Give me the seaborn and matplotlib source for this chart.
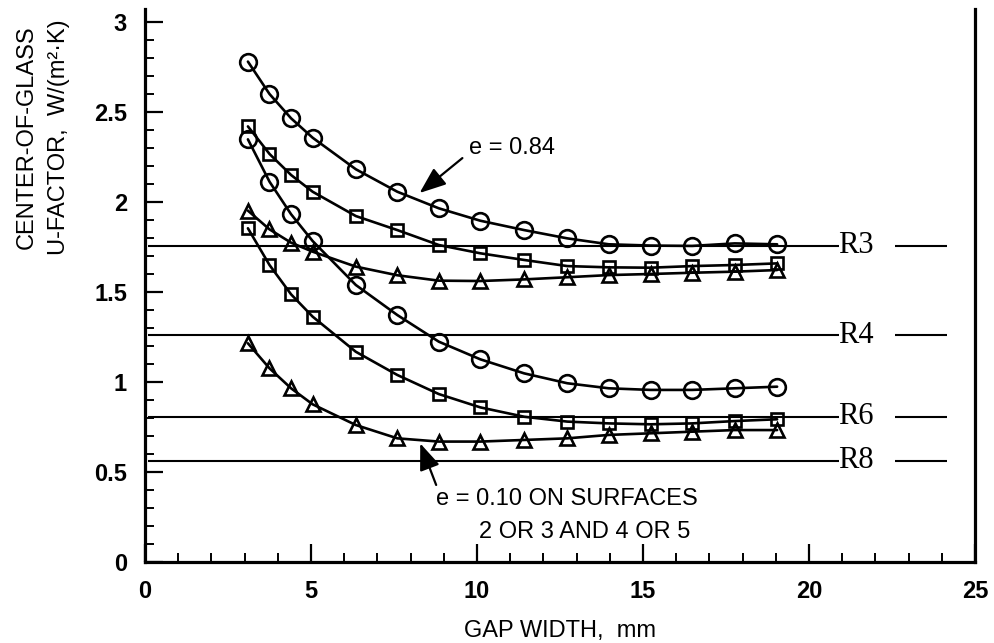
import matplotlib
matplotlib.use("Agg")
import matplotlib.pyplot as plt
import seaborn as sns
import pandas as pd
from matplotlib.ticker import MultipleLocator

# ---------------- data ----------------
gap_mm = [3.1, 3.75, 4.4, 5.05, 6.35, 7.6, 8.85, 10.1, 11.42, 12.72, 13.97, 15.23, 16.48, 17.76, 19.04]

upper_circle = [2.78, 2.60, 2.465, 2.357, 2.182, 2.057, 1.965, 1.896, 1.844, 1.798, 1.765, 1.758, 1.756, 1.77, 1.765]
upper_square = [2.42, 2.267, 2.15, 2.057, 1.922, 1.844, 1.761, 1.715, 1.678, 1.644, 1.637, 1.635, 1.644, 1.65, 1.659]
upper_triangle = [1.952, 1.848, 1.774, 1.724, 1.641, 1.593, 1.563, 1.561, 1.570, 1.582, 1.594, 1.60, 1.607, 1.613, 1.622]
lower_circle = [2.348, 2.113, 1.932, 1.783, 1.539, 1.372, 1.224, 1.126, 1.048, 0.993, 0.965, 0.956, 0.956, 0.965, 0.974]
lower_square = [1.854, 1.65, 1.487, 1.363, 1.168, 1.039, 0.933, 0.859, 0.807, 0.78, 0.77, 0.765, 0.77, 0.783, 0.793]
lower_triangle = [1.215, 1.076, 0.965, 0.876, 0.761, 0.687, 0.669, 0.669, 0.678, 0.687, 0.706, 0.715, 0.724, 0.733, 0.733]

r_labels = ["R3", "R4", "R6", "R8"]
r_values = [1.757, 1.261, 0.806, 0.563]

x_label = "GAP WIDTH,  mm"
y_label = "CENTER-OF-GLASS\nU-FACTOR,  W/(m\u00b2\u00b7K)"
note_high = "e = 0.84"
note_low_1 = "e = 0.10 ON SURFACES"
note_low_2 = "2 OR 3 AND 4 OR 5"

# ---------------- style ----------------
sns.set_style("white")
plt.rcParams["font.family"] = ["Liberation Sans", "DejaVu Sans"]
plt.rcParams["text.color"] = "black"
plt.rcParams["axes.labelcolor"] = "black"
plt.rcParams["xtick.color"] = "black"
plt.rcParams["ytick.color"] = "black"

fig = plt.figure(figsize=(9.95, 6.43), dpi=100)
ax = fig.add_axes([145 / 995, 81 / 643, 830 / 995, 553 / 643])

series = [
    (upper_circle, "o", 12),
    (upper_square, "s", 9),
    (upper_triangle, "^", 10),
    (lower_circle, "o", 12),
    (lower_square, "s", 9),
    (lower_triangle, "^", 10),
]
for vals, mk, ms in series:
    df = pd.DataFrame({"gap": gap_mm, "u": vals})
    sns.lineplot(data=df, x="gap", y="u", ax=ax, color="black", linewidth=1.9,
                 marker=mk, markersize=ms, markerfacecolor="none",
                 markeredgecolor="black", markeredgewidth=1.9, zorder=3)

# R-value reference lines
for lab, val in zip(r_labels, r_values):
    ax.hlines(val, 0.1, 20.9, color="black", linewidth=1.5, zorder=2)
    ax.hlines(val, 22.6, 24.15, color="black", linewidth=1.5, zorder=2)
    ax.text(20.88, val, lab, ha="left", va="center", fontsize=22,
            family=["Liberation Serif", "DejaVu Serif"], color="black")

# annotations
ax.text(9.77, 2.30, note_high, ha="left", va="center", fontsize=17)
ax.annotate("", xy=(8.27, 2.05), xytext=(9.56, 2.244),
            arrowprops=dict(arrowstyle="-|>,head_length=0.9,head_width=0.35",
                            color="black", lw=1.6, shrinkA=0, shrinkB=0,
                            mutation_scale=18))
ax.text(8.78, 0.35, note_low_1, ha="left", va="center", fontsize=17)
ax.text(10.07, 0.168, note_low_2, ha="left", va="center", fontsize=17)
ax.annotate("", xy=(8.29, 0.659), xytext=(8.77, 0.428),
            arrowprops=dict(arrowstyle="-|>,head_length=0.9,head_width=0.35",
                            color="black", lw=1.6, shrinkA=0, shrinkB=0,
                            mutation_scale=18))

# axes
ax.set_xlim(0, 25)
ax.set_ylim(0, 553 / 180)
ax.set_xticks([0, 5, 10, 15, 20, 25])
ax.set_xticklabels(["0", "5", "10", "15", "20", "25"])
ax.set_yticks([0, 0.5, 1, 1.5, 2, 2.5, 3])
ax.set_yticklabels(["0", "0.5", "1", "1.5", "2", "2.5", "3"])
ax.xaxis.set_minor_locator(MultipleLocator(1))
ax.yaxis.set_minor_locator(MultipleLocator(0.1))
ax.tick_params(axis="both", which="both", direction="in", bottom=True, left=True,
               top=False, right=False, colors="black")
ax.tick_params(axis="both", which="major", length=13, width=1.6,
               labelsize=17, pad=13)
ax.tick_params(axis="both", which="minor", length=6.5, width=1.4)
for t in ax.get_xticklabels() + ax.get_yticklabels():
    t.set_fontweight("bold")

for side in ["left", "bottom", "right"]:
    ax.spines[side].set_visible(True)
    ax.spines[side].set_linewidth(2.3)
    ax.spines[side].set_color("black")
ax.spines["top"].set_visible(False)

ax.set_xlabel(x_label, fontsize=17, labelpad=12)
ax.set_ylabel(y_label, fontsize=17, linespacing=1.55)
ax.yaxis.set_label_coords(-0.123, 0.768)
ax.yaxis.label.set_verticalalignment("center")
ax.grid(False)

fig.savefig("out.png", dpi=100)
